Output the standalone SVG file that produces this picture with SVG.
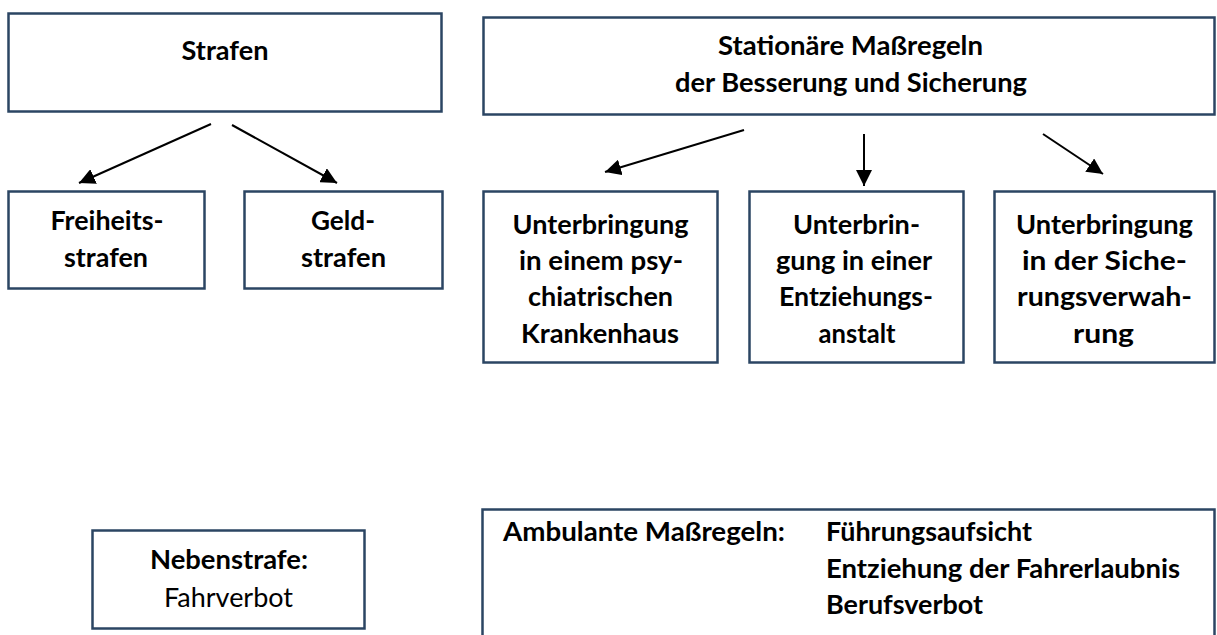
<svg xmlns="http://www.w3.org/2000/svg" width="1217" height="635" viewBox="0 0 1217 635">
<style>
.box{fill:#ffffff;stroke:#2b4563;stroke-width:2.5}
.t{font-family:Lato,"Open Sans","Liberation Sans",sans-serif;font-size:26.5px;font-weight:700;fill:#000;text-anchor:middle}
.r{font-weight:400}
.s{text-anchor:start}
.c{stroke:#000;stroke-width:2;fill:none;marker-end:url(#ah)}
</style>
<defs>
<marker id="ah" viewBox="0 0 10 10" refX="10" refY="5" markerWidth="16" markerHeight="16" markerUnits="userSpaceOnUse" orient="auto">
<path d="M0,0 L10,5 L0,10 z" fill="#000"/>
</marker>
</defs>
<rect width="1217" height="635" fill="#ffffff"/>
<g id="strafen">
<rect class="box" x="8.5" y="13.5" width="433" height="98"/>
<text class="t" x="225" y="60" textLength="87" lengthAdjust="spacingAndGlyphs">Strafen</text>
</g>
<g id="freiheitsstrafen">
<rect class="box" x="8.5" y="191.5" width="196" height="97"/>
<text class="t" x="107" y="230" textLength="113" lengthAdjust="spacingAndGlyphs">Freiheits-</text>
<text class="t" x="106" y="267" textLength="84" lengthAdjust="spacingAndGlyphs">strafen</text>
</g>
<g id="geldstrafen">
<rect class="box" x="244.5" y="191.5" width="198" height="97"/>
<text class="t" x="343" y="230" textLength="64" lengthAdjust="spacingAndGlyphs">Geld-</text>
<text class="t" x="343.5" y="267" textLength="85" lengthAdjust="spacingAndGlyphs">strafen</text>
</g>
<g id="stationaere">
<rect class="box" x="483.5" y="17.5" width="731" height="97"/>
<text class="t" x="850.5" y="55" textLength="265" lengthAdjust="spacingAndGlyphs">Stationäre Maßregeln</text>
<text class="t" x="851" y="92" textLength="352" lengthAdjust="spacingAndGlyphs">der Besserung und Sicherung</text>
</g>
<g id="psychiatrie">
<rect class="box" x="483.5" y="191.5" width="234" height="171"/>
<text class="t" x="600.5" y="234" textLength="176" lengthAdjust="spacingAndGlyphs">Unterbringung</text>
<text class="t" x="601" y="270" textLength="164" lengthAdjust="spacingAndGlyphs">in einem psy-</text>
<text class="t" x="600.5" y="306" textLength="145" lengthAdjust="spacingAndGlyphs">chiatrischen</text>
<text class="t" x="600" y="343" textLength="158" lengthAdjust="spacingAndGlyphs">Krankenhaus</text>
</g>
<g id="entziehungsanstalt">
<rect class="box" x="749.5" y="191.5" width="214" height="171"/>
<text class="t" x="856.5" y="234" textLength="127" lengthAdjust="spacingAndGlyphs">Unterbrin-</text>
<text class="t" x="854" y="270" textLength="156" lengthAdjust="spacingAndGlyphs">gung in einer</text>
<text class="t" x="856" y="306" textLength="154" lengthAdjust="spacingAndGlyphs">Entziehungs-</text>
<text class="t" x="857" y="343" textLength="77" lengthAdjust="spacingAndGlyphs">anstalt</text>
</g>
<g id="sicherungsverwahrung">
<rect class="box" x="994.5" y="191.5" width="220" height="171"/>
<text class="t" x="1104.5" y="234" textLength="177" lengthAdjust="spacingAndGlyphs">Unterbringung</text>
<text class="t" x="1104.5" y="270" textLength="165" lengthAdjust="spacingAndGlyphs">in der Siche-</text>
<text class="t" x="1104.5" y="306" textLength="175" lengthAdjust="spacingAndGlyphs">rungsverwah-</text>
<text class="t" x="1103.5" y="343" textLength="61" lengthAdjust="spacingAndGlyphs">rung</text>
</g>
<g id="nebenstrafe">
<rect class="box" x="92.5" y="530.5" width="272" height="98"/>
<text class="t" x="229" y="569" textLength="158" lengthAdjust="spacingAndGlyphs">Nebenstrafe:</text>
<text class="t r" x="228.5" y="607" textLength="129" lengthAdjust="spacingAndGlyphs">Fahrverbot</text>
</g>
<g id="ambulante">
<rect class="box" x="482.5" y="509.5" width="732" height="140"/>
<text class="t s" x="503" y="541" textLength="282" lengthAdjust="spacingAndGlyphs">Ambulante Maßregeln:</text>
<text class="t s" x="826" y="541" textLength="206" lengthAdjust="spacingAndGlyphs">Führungsaufsicht</text>
<text class="t s" x="826" y="578" textLength="354" lengthAdjust="spacingAndGlyphs">Entziehung der Fahrerlaubnis</text>
<text class="t s" x="826" y="614" textLength="157" lengthAdjust="spacingAndGlyphs">Berufsverbot</text>
</g>
<g id="connectors">
<line class="c" x1="211" y1="124" x2="79" y2="183"/>
<line class="c" x1="232" y1="125" x2="337" y2="183"/>
<line class="c" x1="744" y1="130" x2="605" y2="172"/>
<line class="c" x1="864" y1="134" x2="864" y2="186"/>
<line class="c" x1="1043" y1="134" x2="1103" y2="174"/>
</g>
</svg>
